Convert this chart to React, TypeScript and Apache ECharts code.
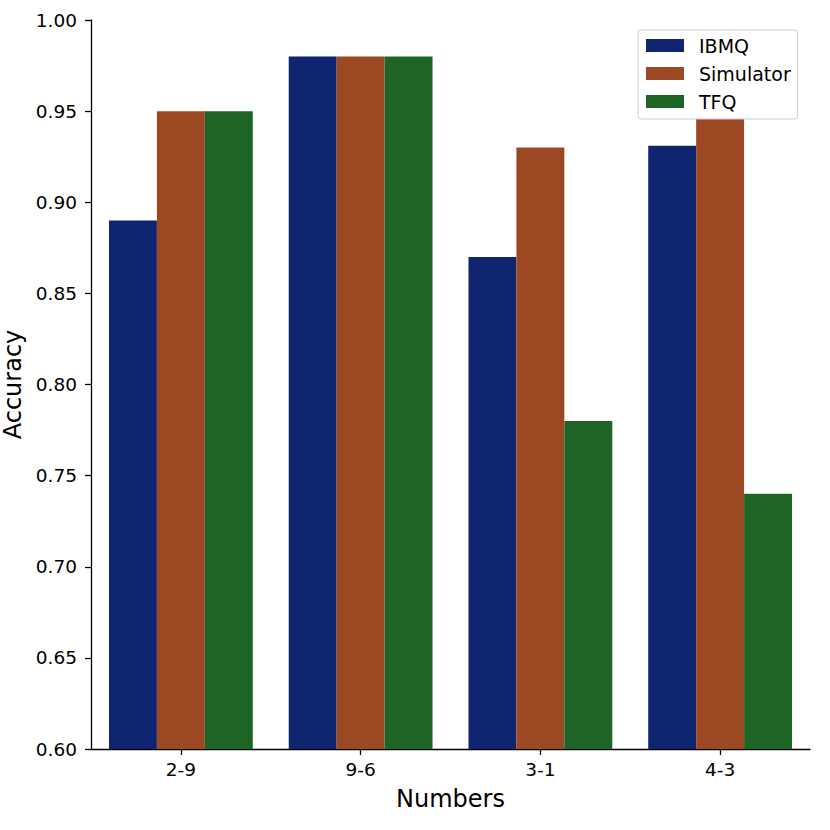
import React, { useEffect, useRef } from "react";
import * as echarts from "echarts";

const categories = ["2-9", "9-6", "3-1", "4-3"];
const ibmq = [0.89, 0.98, 0.87, 0.931];
const simulator = [0.95, 0.98, 0.93, 0.95];
const tfq = [0.95, 0.98, 0.78, 0.74];
const seriesNames = ["IBMQ", "Simulator", "TFQ"];
const colors = ["#10256F", "#9C4822", "#1E6525"];

const FONT = "DejaVu Sans";

export default function App() {
  const ref = useRef<HTMLDivElement>(null);
  useEffect(() => {
    if (!ref.current) return;
    const chart = echarts.init(ref.current, undefined, { renderer: "svg" });
    const data = [ibmq, simulator, tfq];
    chart.setOption({
      animation: false,
      backgroundColor: "#ffffff",
      textStyle: { fontFamily: FONT, color: "#000" },
      grid: {
        left: 91,
        right: 20,
        top: 20,
        bottom: 81,
        containLabel: false,
        outerBoundsMode: "none",
      },
      legend: {
        orient: "vertical",
        left: 638,
        top: 30,
        padding: [6, 7, 8, 8],
        itemWidth: 38,
        itemHeight: 13,
        itemGap: 9,
        icon: "rect",
        backgroundColor: "#ffffff",
        borderColor: "#cccccc",
        borderWidth: 1,
        borderRadius: 3,
        textStyle: { fontFamily: FONT, fontSize: 19, color: "#000", padding: [0, 0, 0, 10] },
        data: seriesNames,
      },
      xAxis: {
        type: "category",
        data: categories,
        boundaryGap: true,
        name: "Numbers",
        nameLocation: "middle",
        nameGap: 38,
        nameTextStyle: { fontFamily: FONT, fontSize: 24, color: "#000" },
        axisLine: { show: true, lineStyle: { color: "#000", width: 1.3 } },
        axisTick: { show: true, alignWithLabel: true, length: 6, lineStyle: { color: "#000", width: 1.3 } },
        axisLabel: { fontFamily: FONT, fontSize: 18.5, color: "#000", margin: 11 },
        splitLine: { show: false },
      },
      yAxis: {
        type: "value",
        min: 0.6,
        max: 1.0,
        interval: 0.05,
        name: "Accuracy",
        nameLocation: "middle",
        nameGap: 64,
        nameTextStyle: { fontFamily: FONT, fontSize: 24, color: "#000" },
        axisLine: { show: true, lineStyle: { color: "#000", width: 1.3 } },
        axisTick: { show: true, length: 6, lineStyle: { color: "#000", width: 1.3 } },
        axisLabel: {
          fontFamily: FONT,
          fontSize: 18.5,
          color: "#000",
          margin: 14,
          formatter: (v: number) => v.toFixed(2),
        },
        splitLine: { show: false },
      },
      series: seriesNames.map((name, i) => ({
        name,
        type: "bar",
        data: data[i],
        barGap: "0%",
        barCategoryGap: "20%",
        itemStyle: { color: colors[i] },
      })),
    });
    return () => chart.dispose();
  }, []);
  return (
    <div
      ref={ref}
      style={{ position: "fixed", left: 0, top: 0, width: 830, height: 830 }}
    />
  );
}
